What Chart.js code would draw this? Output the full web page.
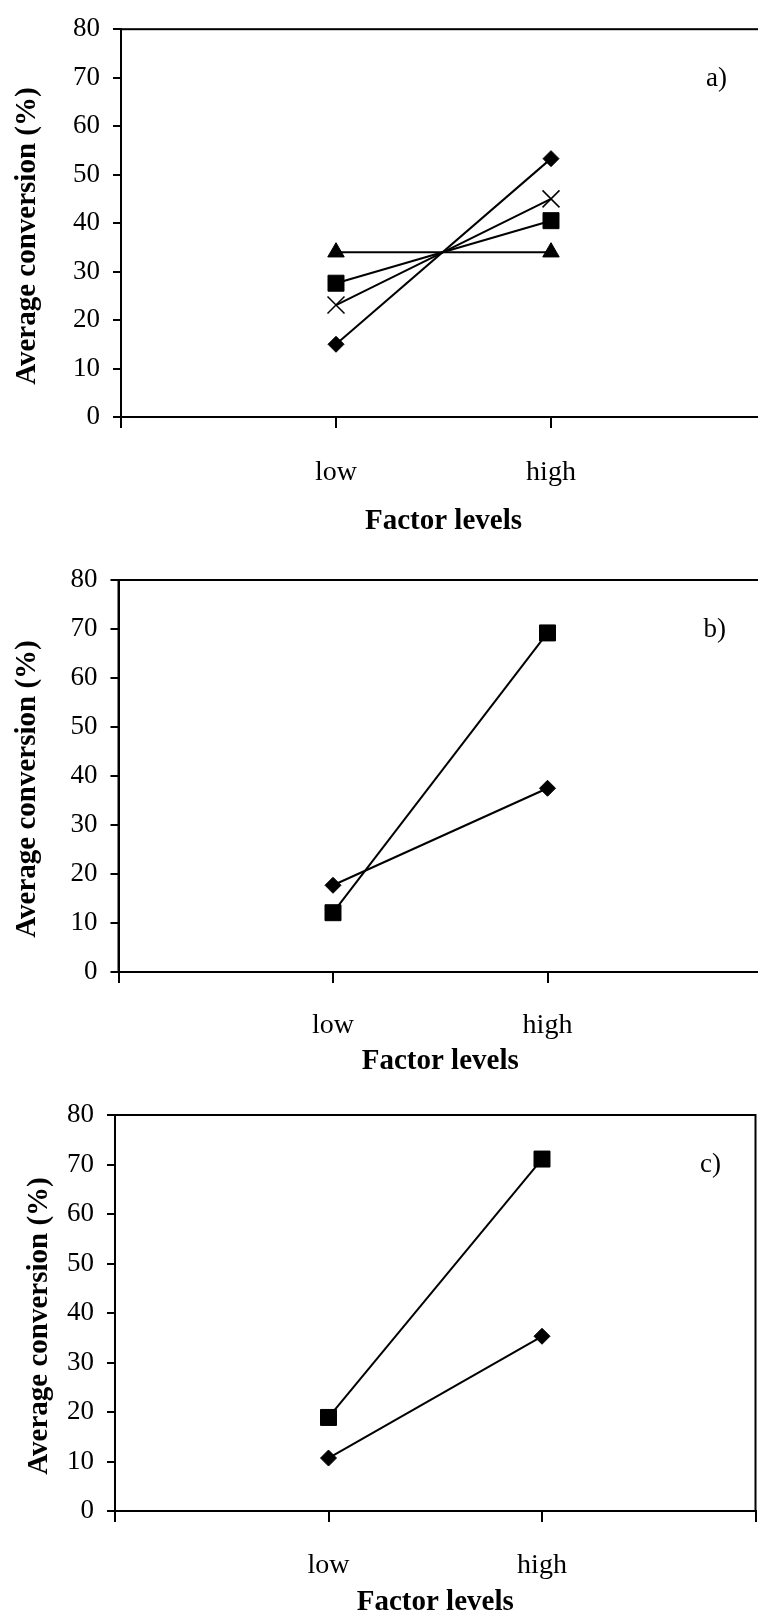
<!DOCTYPE html>
<html>
<head>
<meta charset="utf-8">
<script src="https://cdn.jsdelivr.net/npm/chart.js@4.4.1/dist/chart.umd.min.js"></script>
<style>
    html, body { margin: 0; padding: 0; background: #fff; overflow: hidden; }
    body { width: 758px; height: 1612px; position: relative; }
    canvas { position: absolute; left: 0; }
</style>
</head>
<body>
<canvas id="panel-a" width="800" height="536" style="top:0px"></canvas>
<canvas id="panel-b" width="800" height="540" style="top:536px"></canvas>
<canvas id="panel-c" width="800" height="545" style="top:1076px"></canvas>
<script>
const factorLevels = ["low", "high"];
const yTicks = [0, 10, 20, 30, 40, 50, 60, 70, 80];
const yTitle = "Average conversion (%)";
const xTitle = "Factor levels";

// panel a) - four factors
const aDiamond = [15.0, 53.3];
const aSquare = [27.6, 40.5];
const aTriangle = [34.0, 34.0];
const aCross = [23.1, 45.0];

// panel b)
const bDiamond = [17.7, 37.5];
const bSquare = [12.1, 69.2];

// panel c)
const cDiamond = [10.7, 35.3];
const cSquare = [18.9, 71.1];

const FONT = '"Liberation Serif", "Times New Roman", serif';

const markerStyle = {
    diamond: { pointStyle: "rectRot", pointRadius: 8, pointBorderWidth: 1 },
    square: { pointStyle: "rect", pointRadius: 11.3, pointBorderWidth: 1 },
    triangle: { pointStyle: "triangle", pointRadius: 9.5, pointBorderWidth: 1 },
    cross: { pointStyle: "crossRot", pointRadius: 12, pointBorderWidth: 1.5 },
};

// box round the plot area (top and right edges)
const plotFrame = {
    id: "plotFrame",
    beforeDatasetsDraw(chart) {
        const { ctx, chartArea: a } = chart;
        ctx.save();
        ctx.strokeStyle = "#000";
        ctx.lineWidth = 2;
        ctx.strokeRect(a.left, a.top, a.right - a.left, a.bottom - a.top);
        ctx.restore();
    },
};

// panel tag and the rotated y title
const panelText = {
    id: "panelText",
    afterDraw(chart, args, opts) {
        const { ctx, chartArea: a } = chart;
        ctx.save();
        ctx.fillStyle = "#000";
        ctx.font = `27px ${FONT}`;
        ctx.textAlign = "left";
        ctx.textBaseline = "alphabetic";
        ctx.fillText(opts.tag, a.left + 585, a.top + 57);

        ctx.translate(opts.titleX, (a.top + a.bottom) / 2 + 13);
        ctx.rotate(-Math.PI / 2);
        ctx.font = `bold 29px ${FONT}`;
        ctx.textAlign = "center";
        ctx.fillText(yTitle, 0, 0);
        ctx.restore();
    },
};

function series(values, marker) {
    return {
        data: [null, ...values, null],
        borderColor: "#000",
        borderWidth: 2,
        pointBackgroundColor: "#000",
        pointBorderColor: "#000",
        tension: 0,
        ...markerStyle[marker],
    };
}

function buildPanel(id, tag, datasets, g) {
    const canvas = document.getElementById(id);
    return new Chart(canvas, {
        type: "line",
        data: {
            labels: ["", ...factorLevels, ""],
            datasets,
        },
        options: {
            responsive: false,
            animation: false,
            devicePixelRatio: 1,
            layout: {
                // right padding kept wider than the tick padding so the plot edge lands at g.right
                padding: { top: g.top, right: canvas.width - g.right, bottom: 0, left: 0 },
            },
            plugins: {
                legend: { display: false },
                tooltip: { enabled: false },
                panelText: { tag, titleX: g.titleX },
            },
            scales: {
                x: {
                    offset: false,
                    grid: {
                        drawOnChartArea: false,
                        tickLength: 11,
                        tickWidth: 2,
                        lineWidth: 2,
                        tickColor: "#000",
                        color: "#000",
                    },
                    border: { color: "#000", width: 2 },
                    ticks: {
                        color: "#000",
                        font: { family: FONT, size: 28 },
                        padding: g.xPad,
                        autoSkip: false,
                        maxRotation: 0,
                    },
                    title: {
                        display: true,
                        text: xTitle,
                        color: "#000",
                        font: { family: FONT, size: 29, weight: "bold" },
                        padding: { top: 0, bottom: g.titlePad },
                    },
                    afterFit(s) {
                        s.height = canvas.height - g.bottom;
                    },
                },
                y: {
                    min: 0,
                    max: 80,
                    grid: {
                        drawOnChartArea: false,
                        tickLength: 8,
                        tickWidth: 2,
                        lineWidth: 2,
                        tickColor: "#000",
                        color: "#000",
                    },
                    border: { color: "#000", width: 2 },
                    ticks: {
                        color: "#000",
                        font: { family: FONT, size: 27 },
                        padding: 13,
                    },
                    afterBuildTicks(s) {
                        s.ticks = yTicks.map((v) => ({ value: v }));
                    },
                    afterFit(s) {
                        s.width = g.left;
                    },
                },
            },
        },
        plugins: [plotFrame, panelText],
    });
}

buildPanel("panel-a", "a)", [
    series(aTriangle, "triangle"),
    series(aSquare, "square"),
    series(aCross, "cross"),
    series(aDiamond, "diamond"),
], { left: 121, right: 766, top: 25, bottom: 417, xPad: 28, titlePad: -3, titleX: 35 });

buildPanel("panel-b", "b)", [
    series(bSquare, "square"),
    series(bDiamond, "diamond"),
], { left: 118.5, right: 762, top: 44, bottom: 436, xPad: 26, titlePad: -3, titleX: 35 });

buildPanel("panel-c", "c)", [
    series(cSquare, "square"),
    series(cDiamond, "diamond"),
], { left: 115, right: 755.5, top: 39, bottom: 435, xPad: 27, titlePad: 1, titleX: 47 });
</script>
</body>
</html>
